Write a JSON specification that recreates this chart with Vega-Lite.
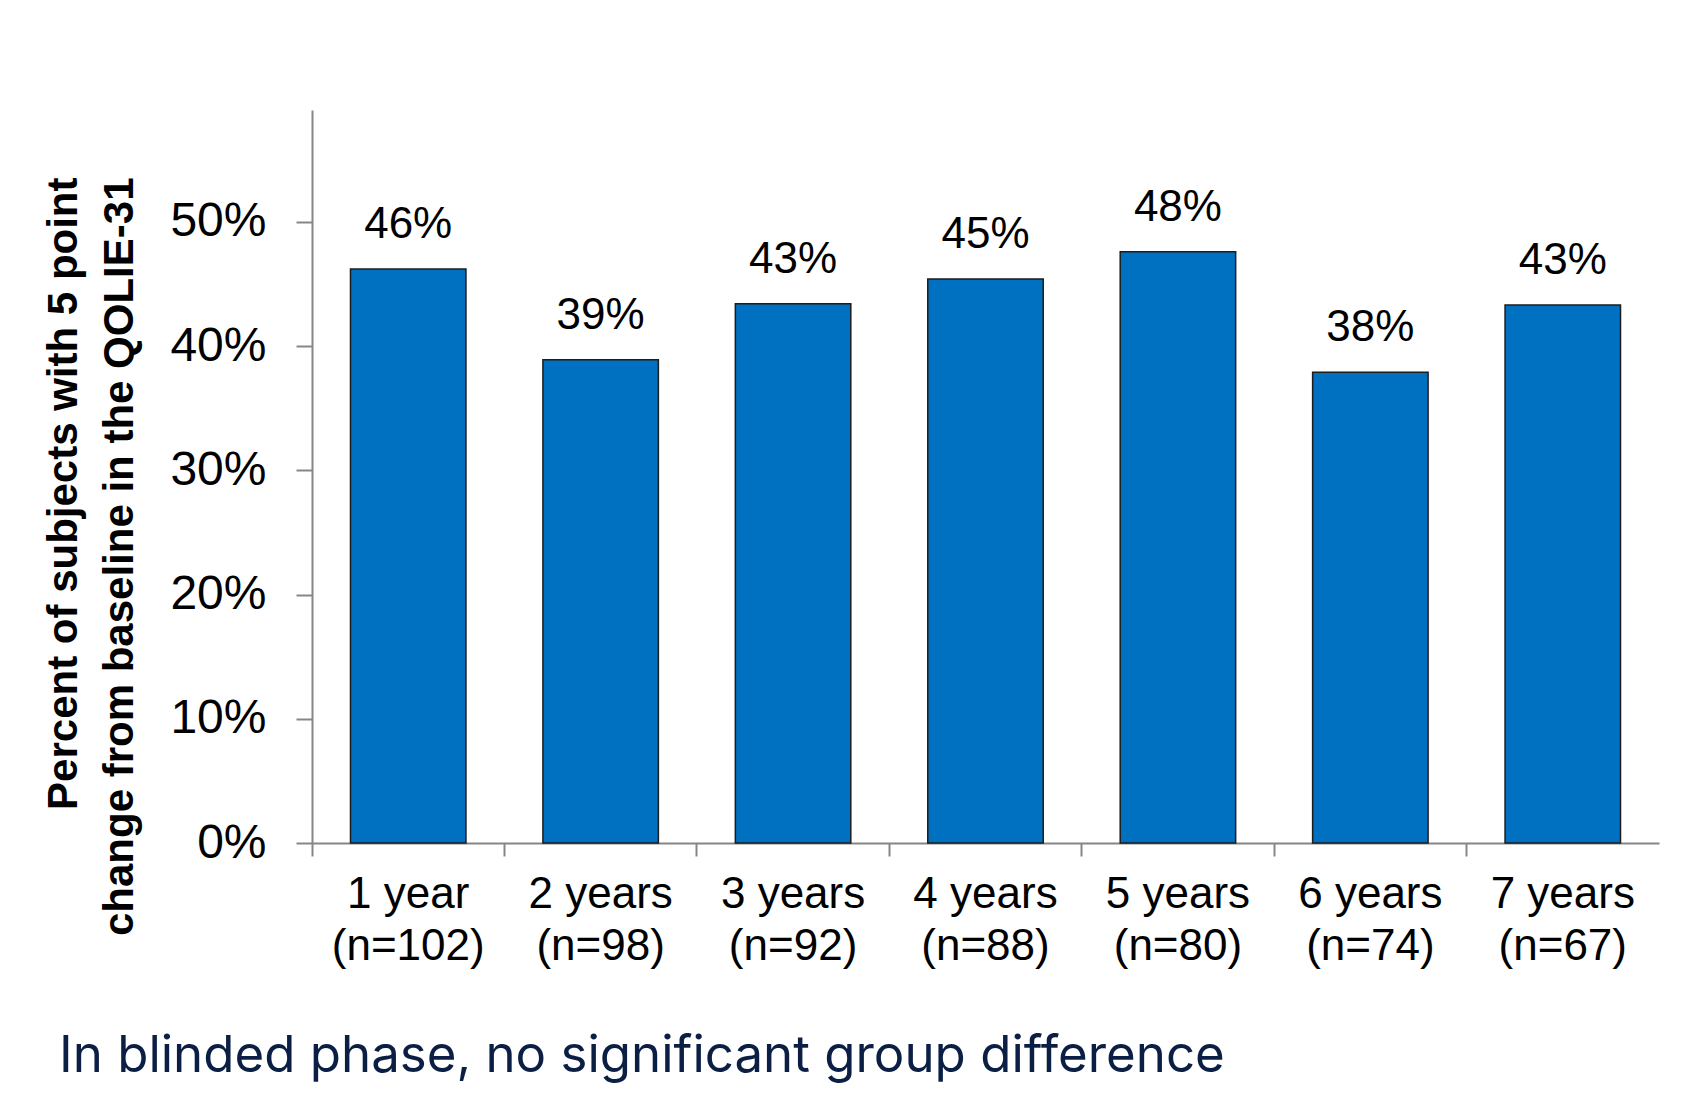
{
  "$schema": "https://vega.github.io/schema/vega-lite/v6.json",
  "width": 1347,
  "height": 733,
  "autosize": {"type": "none"},
  "padding": {"left": 312, "top": 110, "right": 25, "bottom": 276},
  "background": "white",
  "config": {
    "view": {"stroke": null},
    "font": "Liberation Sans"
  },
  "title": {
    "text": "In blinded phase, no significant group difference",
    "orient": "bottom",
    "anchor": "start",
    "frame": "group",
    "dx": -253,
    "offset": 64,
    "font": "Inter",
    "fontSize": 51,
    "fontWeight": "normal",
    "color": "#0b1f45"
  },
  "data": {
    "values": [
      {"period": "1 year (n=102)", "share": 0.462},
      {"period": "2 years (n=98)", "share": 0.389},
      {"period": "3 years (n=92)", "share": 0.434},
      {"period": "4 years (n=88)", "share": 0.454},
      {"period": "5 years (n=80)", "share": 0.476},
      {"period": "6 years (n=74)", "share": 0.379},
      {"period": "7 years (n=67)", "share": 0.433}
    ]
  },
  "encoding": {
    "x": {
      "field": "period",
      "type": "nominal",
      "sort": null,
      "scale": {"paddingInner": 0, "paddingOuter": 0},
      "axis": {
        "title": null,
        "bandPosition": 0,
        "labelAngle": 0,
        "labelFont": "Liberation Sans",
        "labelFontSize": 44,
        "labelColor": "#000000",
        "labelLineHeight": 52,
        "labelPadding": 16,
        "labelBaseline": "top",
        "labelExpr": "[substring(datum.value, 0, indexof(datum.value, ' (')), substring(datum.value, indexof(datum.value, ' (') + 1)]",
        "domainColor": "#868686",
        "domainWidth": 2,
        "tickColor": "#868686",
        "tickWidth": 2,
        "tickSize": 13
      }
    },
    "y": {
      "field": "share",
      "type": "quantitative",
      "scale": {"domain": [0, 0.59], "nice": false, "zero": true},
      "axis": {
        "values": [0, 0.1, 0.2, 0.3, 0.4, 0.5],
        "format": ".0%",
        "grid": false,
        "labelFont": "Liberation Sans",
        "labelFontSize": 48,
        "labelColor": "#000000",
        "labelPadding": 30,
        "domainColor": "#868686",
        "domainWidth": 2,
        "tickColor": "#868686",
        "tickWidth": 2,
        "tickSize": 16,
        "title": ["Percent of subjects with 5 point", "change from baseline in the QOLIE-31"],
        "titleFont": "Liberation Sans",
        "titleFontSize": 42,
        "titleFontWeight": "bold",
        "titleColor": "#000000",
        "titleLineHeight": 56,
        "titleAngle": 270,
        "titleAlign": "right",
        "titleBaseline": "middle",
        "titleX": -249,
        "titleY": 67
      }
    }
  },
  "layer": [
    {
      "mark": {
        "type": "bar",
        "color": "#0070C0",
        "stroke": "#1c1c1c",
        "strokeWidth": 1.5,
        "width": {"band": 0.6}
      }
    },
    {
      "mark": {
        "type": "text",
        "baseline": "alphabetic",
        "dy": -31,
        "font": "Liberation Sans",
        "fontSize": 44,
        "color": "#000000"
      },
      "encoding": {
        "text": {"field": "share", "type": "quantitative", "format": ".0%"}
      }
    }
  ]
}
